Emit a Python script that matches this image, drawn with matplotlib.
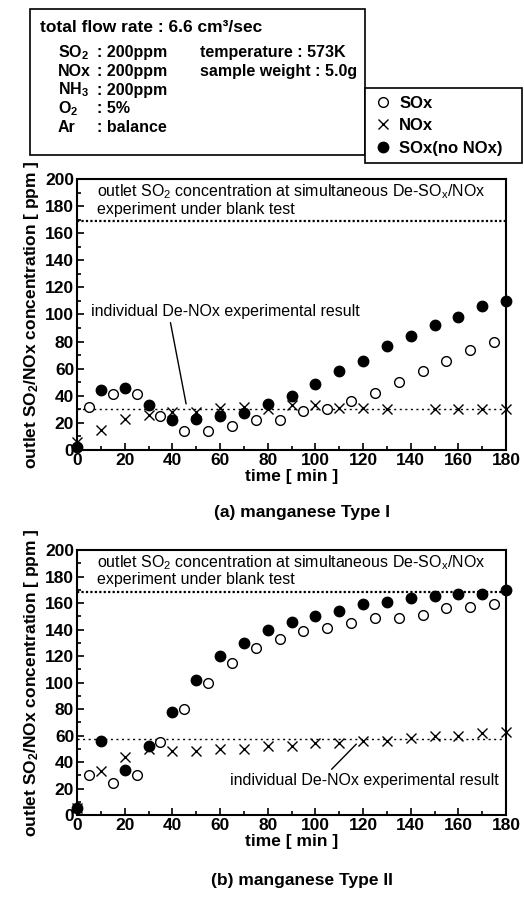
import numpy as np
import matplotlib.pyplot as plt
from matplotlib.patches import Rectangle

plt.rcParams['font.family'] = ['Liberation Sans', 'DejaVu Sans']
plt.rcParams['mathtext.default'] = 'regular'

# (a) manganese Type I
a_sox_t = [5, 15, 25, 35, 45, 55, 65, 75, 85, 95, 105, 115, 125, 135, 145, 155, 165, 175]
a_sox = [32, 41, 41, 25, 14, 14, 18, 22, 22, 29, 30, 36, 42, 50, 58, 66, 74, 80]
a_nox_t = [0, 10, 20, 30, 40, 50, 60, 70, 80, 90, 100, 110, 120, 130, 150, 160, 170, 180]
a_nox = [6, 15, 23, 26, 28, 28, 31, 32, 30, 33, 33, 31, 31, 30, 30, 30, 30, 30]
a_nonox_t = [0, 10, 20, 30, 40, 50, 60, 70, 80, 90, 100, 110, 120, 130, 140, 150, 160, 170, 180]
a_nonox = [2, 44, 46, 33, 22, 23, 25, 27, 34, 40, 49, 58, 66, 77, 84, 92, 98, 106, 110]
a_blank = 169
a_denox = 30

# (b) manganese Type II
b_sox_t = [5, 15, 25, 35, 45, 55, 65, 75, 85, 95, 105, 115, 125, 135, 145, 155, 165, 175]
b_sox = [30, 24, 30, 55, 80, 100, 115, 126, 133, 139, 141, 145, 149, 149, 151, 156, 157, 159]
b_nox_t = [0, 10, 20, 30, 40, 50, 60, 70, 80, 90, 100, 110, 120, 130, 140, 150, 160, 170, 180]
b_nox = [5, 33, 44, 50, 48, 48, 50, 50, 52, 52, 54, 54, 56, 56, 58, 60, 60, 62, 63]
b_nonox_t = [0, 10, 20, 30, 40, 50, 60, 70, 80, 90, 100, 110, 120, 130, 140, 150, 160, 170, 180]
b_nonox = [5, 56, 34, 52, 78, 102, 120, 130, 140, 146, 150, 154, 159, 161, 164, 165, 167, 167, 170]
b_blank = 168
b_denox = 57

W, H = 524, 897
fig = plt.figure(figsize=(W / 100, H / 100), dpi=100)


def fx(x):
    return x / W


def fy(y):
    return 1 - y / H


def panel(top, bottom, sox_t, sox, nox_t, nox, nonox_t, nonox, blank, denox):
    ax = fig.add_axes([fx(77), fy(bottom), fx(506) - fx(77), fy(top) - fy(bottom)])
    ax.axhline(blank, color='black', ls=(0, (1, 1)), lw=1.6)
    ax.axhline(denox, color='black', ls=(0, (1.5, 2.5)), lw=1.0)
    ax.plot(sox_t, sox, 'o', ms=7, mfc='white', mec='black', mew=1.0, clip_on=False, label='SOx')
    ax.plot(nox_t, nox, 'x', ms=7, color='black', mew=1.0, clip_on=False, label='NOx')
    ax.plot(nonox_t, nonox, 'o', ms=7.5, color='black', clip_on=False, label='SOx(no NOx)')
    ax.set_xlim(0, 180)
    ax.set_ylim(0, 200)
    ax.set_xticks(np.arange(0, 181, 20))
    ax.set_xticks(np.arange(0, 181, 10), minor=True)
    ax.set_yticks(np.arange(0, 201, 20))
    ax.set_yticks(np.arange(0, 201, 10), minor=True)
    ax.tick_params(which='both', direction='in', top=False, right=False, width=1.2)
    ax.tick_params(which='major', length=5, labelsize=12.5, pad=2)
    ax.tick_params(which='minor', length=3)
    for lab in ax.get_xticklabels() + ax.get_yticklabels():
        lab.set_fontweight('bold')
    for s in ax.spines.values():
        s.set_linewidth(1.5)
    ax.set_xlabel('time [ min ]', fontsize=12.5, fontweight='bold', labelpad=1)
    ax.set_ylabel('outlet SO$_2$/NOx concentration [ ppm ]', fontsize=12.5,
                  fontweight='bold', labelpad=3)
    ax.text(8.5, 190.5, 'outlet SO$_2$ concentration at simultaneous De-SO$_x$/NOx',
            fontsize=11.5, va='center')
    ax.text(8.5, 177.5, 'experiment under blank test', fontsize=11.5, va='center')
    return ax


ax1 = panel(179, 450, a_sox_t, a_sox, a_nox_t, a_nox, a_nonox_t, a_nonox, a_blank, a_denox)
ax1.text(6, 102, 'individual De-NOx experimental result', fontsize=11.5, va='center')
ax1.annotate('', xy=(46, 32), xytext=(39, 96),
             arrowprops=dict(arrowstyle='-', lw=1, color='black'))
fig.text(fx(302), fy(512), '(a) manganese Type I', fontsize=12.5, fontweight='bold',
         ha='center', va='center')

ax2 = panel(550, 815, b_sox_t, b_sox, b_nox_t, b_nox, b_nonox_t, b_nonox, b_blank, b_denox)
ax2.text(64, 26, 'individual De-NOx experimental result', fontsize=11.5, va='center')
ax2.annotate('', xy=(118, 55), xytext=(106, 33),
             arrowprops=dict(arrowstyle='-', lw=1, color='black'))
fig.text(fx(302), fy(880), '(b) manganese Type II', fontsize=12.5, fontweight='bold',
         ha='center', va='center')

# condition box
fig.add_artist(Rectangle((fx(30), fy(155)), fx(365) - fx(30), fy(9) - fy(155),
                         transform=fig.transFigure, fc='white', ec='black', lw=1.2, zorder=1))
fig.text(fx(40), fy(27), 'total flow rate : 6.6 cm³/sec', fontsize=12.5, fontweight='bold',
         va='center')
rows = [('SO$_2$', ': 200ppm'), ('NOx', ': 200ppm'), ('NH$_3$', ': 200ppm'),
        ('O$_2$', ': 5%'), ('Ar', ': balance')]
for i, (k, v) in enumerate(rows):
    y = 53 + i * 18.5
    fig.text(fx(58), fy(y), k, fontsize=11.5, fontweight='bold', va='center')
    fig.text(fx(97), fy(y), v, fontsize=11.5, fontweight='bold', va='center')
fig.text(fx(200), fy(53), 'temperature : 573K', fontsize=11.5, fontweight='bold', va='center')
fig.text(fx(200), fy(71.5), 'sample weight : 5.0g', fontsize=11.5, fontweight='bold',
         va='center')

handles, labels = ax1.get_legend_handles_labels()
leg = fig.legend(handles, labels, loc='upper left',
                 bbox_to_anchor=(fx(365), fy(173), fx(522) - fx(365), fy(88) - fy(173)),
                 mode='expand', frameon=True, fancybox=False, edgecolor='black',
                 framealpha=1, borderaxespad=0, borderpad=0.45, labelspacing=0.45,
                 handletextpad=0.4, handlelength=1.2, prop={'size': 12, 'weight': 'bold'})
leg.get_frame().set_linewidth(1.2)
leg.set_zorder(5)

fig.savefig('out.png', dpi=100)
